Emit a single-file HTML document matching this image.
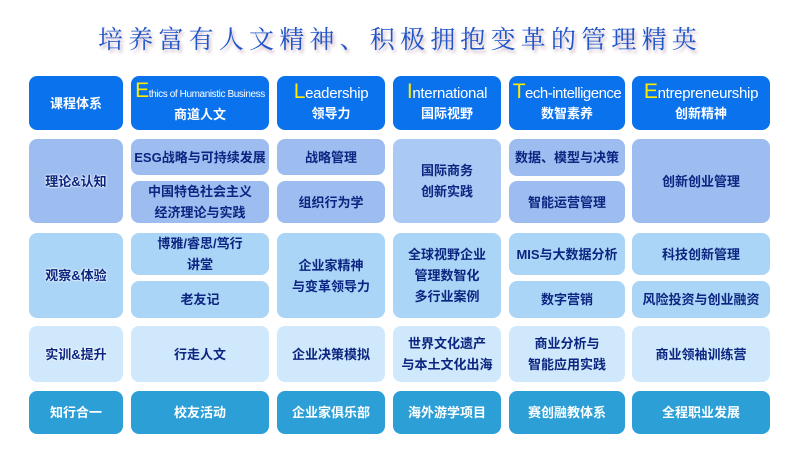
<!DOCTYPE html>
<html><head><meta charset="utf-8"><style>
body{margin:0;width:799px;height:449px;background:#fff;position:relative;overflow:hidden;font-family:"Liberation Sans","Noto Sans CJK SC",sans-serif;}
.b{position:absolute;border-radius:8px;display:flex;flex-direction:column;align-items:center;justify-content:center;text-align:center;font-weight:bold;font-size:13px;line-height:21px;color:#0b2580;}
.h{background:#0a72ec;color:#fff;}
.r1{background:#9dbdf0;}
.r2{background:#abd5f7;}
.r3{background:#cfe8fb;}
.r4{background:#2c9fd6;color:#fff;}
.en{font-size:15px;line-height:19px;font-weight:normal;letter-spacing:-0.3px;}
.en b{color:#ffeb00;font-size:21px;font-weight:normal;}
.sh{color:#0b2580;text-shadow:0 0 2px #fff,0 0 2px #fff;}
.title{position:absolute;left:98px;top:20px;font-family:"Noto Serif CJK SC","Liberation Serif",serif;font-size:25px;color:#1f55c8;letter-spacing:5.2px;text-shadow:2px 3px 3px #c9b3c3;white-space:nowrap;}
</style></head><body>
<div class="title">培养富有人文精神、积极拥抱变革的管理精英</div>

<div class="b h" style="left:29px;top:76px;width:94px;height:54px;">课程体系</div>
<div class="b h" style="left:131px;top:76px;width:138px;height:54px;"><div class="en" style="font-size:10px;letter-spacing:-0.4px"><b>E</b>thics of Humanistic Business</div><div>商道人文</div></div>
<div class="b h" style="left:277px;top:76px;width:108px;height:54px;"><div class="en"><b>L</b>eadership</div><div>领导力</div></div>
<div class="b h" style="left:393px;top:76px;width:108px;height:54px;"><div class="en"><b>I</b>nternational</div><div>国际视野</div></div>
<div class="b h" style="left:509px;top:76px;width:116px;height:54px;"><div class="en" style="letter-spacing:-0.5px"><b>T</b>ech-intelligence</div><div>数智素养</div></div>
<div class="b h" style="left:632px;top:76px;width:138px;height:54px;"><div class="en"><b>E</b>ntrepreneurship</div><div>创新精神</div></div>

<div class="b r1 sh" style="left:29px;top:139px;width:94px;height:84px;">理论&amp;认知</div>
<div class="b r1" style="left:131px;top:139px;width:138px;height:36px;">ESG战略与可持续发展</div>
<div class="b r1" style="left:131px;top:181px;width:138px;height:42px;">中国特色社会主义<br>经济理论与实践</div>
<div class="b r1" style="left:277px;top:139px;width:108px;height:36px;">战略管理</div>
<div class="b r1" style="left:277px;top:181px;width:108px;height:42px;">组织行为学</div>
<div class="b r1" style="left:393px;top:139px;width:108px;height:84px;background:#aac9f4;">国际商务<br>创新实践</div>
<div class="b r1" style="left:509px;top:139px;width:116px;height:37px;">数据、模型与决策</div>
<div class="b r1" style="left:509px;top:181px;width:116px;height:42px;">智能运营管理</div>
<div class="b r1" style="left:632px;top:139px;width:138px;height:84px;">创新创业管理</div>

<div class="b r2 sh" style="left:29px;top:233px;width:94px;height:85px;">观察&amp;体验</div>
<div class="b r2" style="left:131px;top:233px;width:138px;height:42px;">博雅/睿思/笃行<br>讲堂</div>
<div class="b r2" style="left:131px;top:281px;width:138px;height:37px;">老友记</div>
<div class="b r2" style="left:277px;top:233px;width:108px;height:85px;">企业家精神<br>与变革领导力</div>
<div class="b r2" style="left:393px;top:233px;width:108px;height:85px;">全球视野企业<br>管理数智化<br>多行业案例</div>
<div class="b r2" style="left:509px;top:233px;width:116px;height:42px;">MIS与大数据分析</div>
<div class="b r2" style="left:509px;top:281px;width:116px;height:37px;">数字营销</div>
<div class="b r2" style="left:632px;top:233px;width:138px;height:42px;">科技创新管理</div>
<div class="b r2" style="left:632px;top:281px;width:138px;height:37px;">风险投资与创业融资</div>

<div class="b r3 sh" style="left:29px;top:326px;width:94px;height:56px;">实训&amp;提升</div>
<div class="b r3" style="left:131px;top:326px;width:138px;height:56px;">行走人文</div>
<div class="b r3" style="left:277px;top:326px;width:108px;height:56px;">企业决策模拟</div>
<div class="b r3" style="left:393px;top:326px;width:108px;height:56px;">世界文化遗产<br>与本土文化出海</div>
<div class="b r3" style="left:509px;top:326px;width:116px;height:56px;">商业分析与<br>智能应用实践</div>
<div class="b r3" style="left:632px;top:326px;width:138px;height:56px;">商业领袖训练营</div>

<div class="b r4" style="left:29px;top:391px;width:94px;height:43px;">知行合一</div>
<div class="b r4" style="left:131px;top:391px;width:138px;height:43px;">校友活动</div>
<div class="b r4" style="left:277px;top:391px;width:108px;height:43px;">企业家俱乐部</div>
<div class="b r4" style="left:393px;top:391px;width:108px;height:43px;">海外游学项目</div>
<div class="b r4" style="left:509px;top:391px;width:116px;height:43px;">赛创融教体系</div>
<div class="b r4" style="left:632px;top:391px;width:138px;height:43px;">全程职业发展</div>
</body></html>
